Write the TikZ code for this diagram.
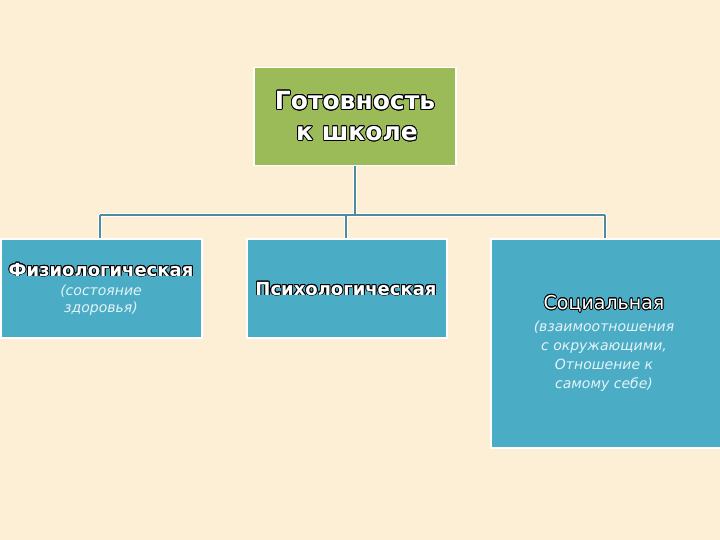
\documentclass[tikz,border=0pt]{standalone}
\usepackage{fontspec}
\setmainfont{DejaVu Sans}
\usepackage{contour}
\contourlength{0.8pt}
\contournumber{16}
\definecolor{bgc}{HTML}{FCEFD6}
\definecolor{grn}{HTML}{9BBB59}
\definecolor{blu}{HTML}{4BACC6}
\definecolor{lnc}{HTML}{4E8B9C}
\definecolor{itc}{HTML}{E4F3F7}
\newcommand{\outl}[1]{\contour{black}{\textcolor{white}{#1}}}
\tikzset{
  box/.style={draw=white, line width=1.5pt, anchor=north west, inner sep=0pt},
  conn/.style={draw=lnc, line width=1.6pt},
  connw/.style={draw=white, line width=3.2pt},
  head/.style={font=\bfseries\fontsize{18}{20}\selectfont, inner sep=0pt},
  sub/.style={font=\itshape\fontsize{14}{17}\selectfont, text=itc, align=center, inner sep=0pt}
}
\begin{document}
\begin{tikzpicture}[x=1pt,y=-1pt]
\fill[bgc] (0,0) rectangle (720,540);
\useasboundingbox (0,0) rectangle (720,540);
% boxes
\node[box, fill=grn, minimum width=202pt, minimum height=98pt] (top) at (253,67) {};
\node[box, fill=blu, minimum width=201pt, minimum height=99pt] (b1) at (0,238) {};
\node[box, fill=blu, minimum width=200pt, minimum height=99pt] (b2) at (246,238) {};
\node[box, fill=blu, minimum width=232pt, minimum height=209pt] (b3) at (490,238) {};
% connectors
\coordinate (j) at (355,215);
\coordinate (l1) at (100,215);
\coordinate (l2) at (346,215);
\coordinate (l3) at (605,215);
\foreach \s in {connw,conn}{
  \draw[\s] (top.south -| j) -- (j);
  \draw[\s] (l1) -- (l3);
  \draw[\s] (l1) -- (l1 |- b1.north);
  \draw[\s] (l2) -- (l2 |- b2.north);
  \draw[\s] (l3) -- (l3 |- b3.north);
}
% texts
\node[font=\bfseries\fontsize{25}{28}\selectfont, inner sep=0pt] (t1) at (355,101) {\outl{Готовность}};
\node[font=\bfseries\fontsize{25}{28}\selectfont, inner sep=0pt] (t2) at (357,134) {\outl{к школе}};
\node[head] (h1) at (101,270) {\outl{Физиологическая}};
\node[sub] (s1) at (101,300) {(состояние\\здоровья)};
\node[head] (h2) at (346,289) {\outl{Психологическая}};
\node[font=\fontsize{19}{21}\selectfont, inner sep=0pt] (h3) at (604,304) {\outl{Социальная}};
\node[sub, font=\itshape\fontsize{14}{19}\selectfont] (s3) at (604,356) {(взаимоотношения\\с окружающими,\\Отношение к\\самому себе)};
\end{tikzpicture}
\end{document}
